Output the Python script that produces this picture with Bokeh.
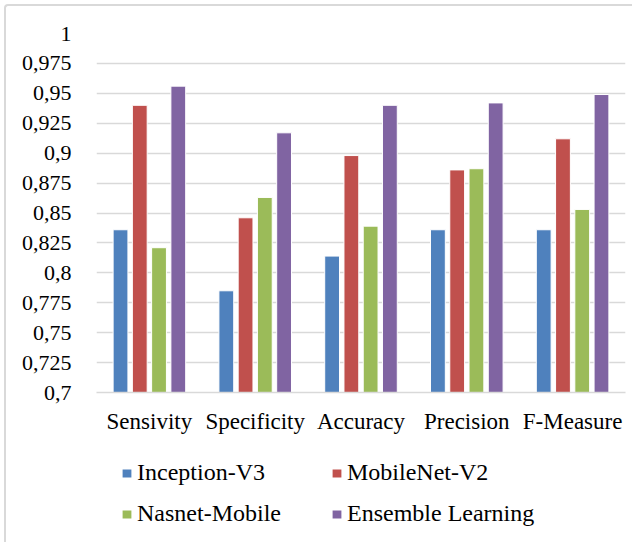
from bokeh.plotting import figure
from bokeh.layouts import column
from bokeh.models import (FactorRange, Range1d, FixedTicker, CustomJSTickFormatter,
                          Legend, LegendItem, ColumnDataSource)
from bokeh.transform import dodge
from bokeh.embed import file_html
from bokeh.resources import INLINE

categories = ["Sensivity", "Specificity", "Accuracy", "Precision", "F-Measure"]
series_names = ["Inception-V3", "MobileNet-V2", "Nasnet-Mobile", "Ensemble Learning"]
inception_v3 = [0.836, 0.785, 0.814, 0.836, 0.836]
mobilenet_v2 = [0.940, 0.846, 0.898, 0.886, 0.912]
nasnet_mobile = [0.821, 0.863, 0.839, 0.887, 0.853]
ensemble = [0.956, 0.917, 0.940, 0.942, 0.949]
y_ticks = [0.7, 0.725, 0.75, 0.775, 0.8, 0.825, 0.85, 0.875, 0.9, 0.925, 0.95, 0.975, 1.0]

colors = ["#4F81BD", "#C0504D", "#9BBB59", "#8064A2"]
offsets = [-0.273, -0.091, 0.091, 0.273]
FONT = "'Liberation Serif', 'Times New Roman', serif"

src = ColumnDataSource(dict(cat=categories, s0=inception_v3, s1=mobilenet_v2,
                            s2=nasnet_mobile, s3=ensemble))

p = figure(x_range=FactorRange(*categories), y_range=Range1d(0.7, 1.0),
           width=626, height=442, output_backend="svg", toolbar_location=None,
           min_border_left=90, min_border_right=7, min_border_top=27, min_border_bottom=56)
p.outline_line_color = None
p.background_fill_color = "white"
p.border_fill_color = "white"

for i, key in enumerate(["s0", "s1", "s2", "s3"]):
    p.vbar(x=dodge("cat", offsets[i], range=p.x_range), top=key, bottom=0.7,
           width=0.14, source=src, fill_color=colors[i], line_color="white",
           line_width=1)

# grid
p.xgrid.grid_line_color = None
p.ygrid.grid_line_color = "#d9d9d9"
p.ygrid.grid_line_width = 1.5
p.yaxis.ticker = FixedTicker(ticks=y_ticks)
p.ygrid.ticker = FixedTicker(ticks=y_ticks)

# y axis
p.yaxis.axis_line_color = None
p.yaxis.major_tick_line_color = None
p.yaxis.minor_tick_line_color = None
p.yaxis.major_label_standoff = 19
p.yaxis.major_label_text_font = FONT
p.yaxis.major_label_text_font_size = "22px"
p.yaxis.major_label_text_color = "#000000"
p.yaxis.formatter = CustomJSTickFormatter(
    code="var s = (+tick.toFixed(3)).toString(); return s.replace('.', ',');")

# x axis
p.xaxis.axis_line_color = "#d9d9d9"
p.xaxis.axis_line_width = 1.5
p.xaxis.major_tick_line_color = None
p.xaxis.minor_tick_line_color = None
p.xaxis.major_label_standoff = 10
p.xaxis.major_label_text_font = FONT
p.xaxis.major_label_text_font_size = "23px"
p.xaxis.major_label_text_color = "#000000"

# legend figure (frame is aligned with the chart frame by the column layout)
lg = figure(width=626, height=94, x_range=Range1d(0, 1), y_range=Range1d(0, 1),
            output_backend="svg", toolbar_location=None,
            x_axis_type=None, y_axis_type=None,
            min_border_left=90, min_border_right=7, min_border_top=0, min_border_bottom=0)
lg.outline_line_color = None
lg.xgrid.visible = False
lg.ygrid.visible = False
# legend-only swatch glyphs, placed outside the visible range
dummy = ColumnDataSource(dict(x=[-5.0], top=[-5.0]))
items = []
for i in range(4):
    r = lg.vbar(x="x", top="top", bottom=-6.0, width=0.1, source=dummy,
                fill_color=colors[i], line_color=None)
    items.append(LegendItem(label=series_names[i], renderers=[r]))

legend = Legend(items=items, location=(25, 15), orientation="horizontal", ncols=2)
legend.border_line_color = None
legend.background_fill_alpha = 0
legend.padding = 0
legend.margin = 0
legend.spacing = 14
legend.glyph_width = 11
legend.glyph_height = 10
legend.label_standoff = 5
legend.label_width = 180
legend.label_text_font = FONT
legend.label_text_font_size = "24px"
legend.label_text_color = "#000000"
lg.add_layout(legend, "center")

layout = column(p, lg, spacing=0)
layout.styles = {"border-left": "2px solid #d9d9d9", "border-top": "2px solid #d9d9d9",
                 "border-top-left-radius": "4px", "margin-left": "4px", "margin-top": "4px"}
open("out.html", "w").write(file_html(layout, INLINE))
